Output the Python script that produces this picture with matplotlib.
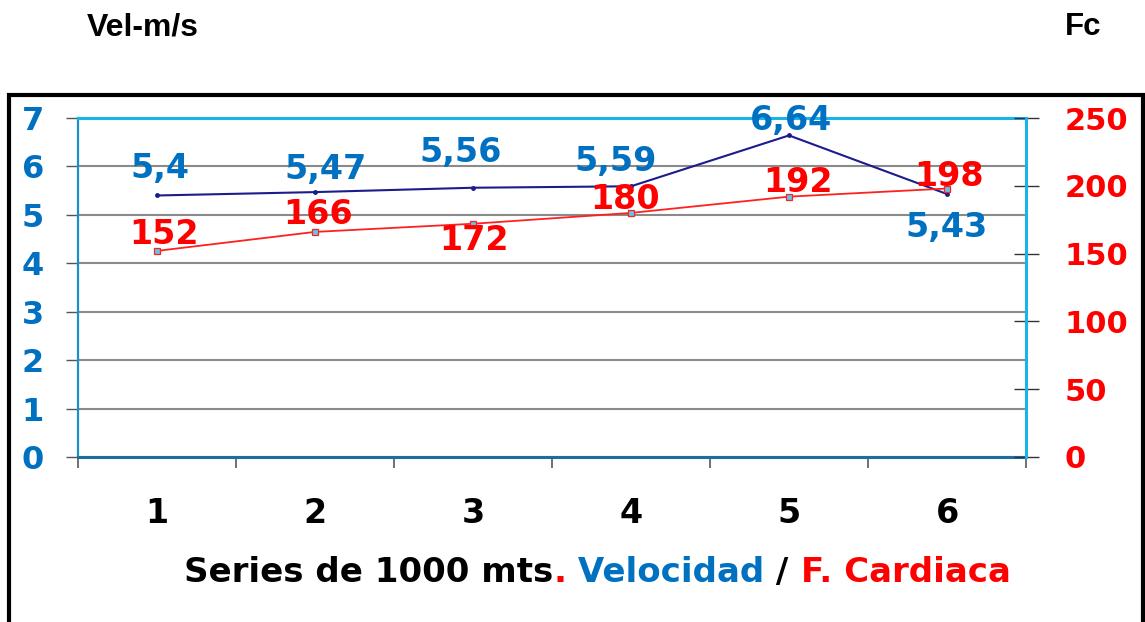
import matplotlib.pyplot as plt
from matplotlib.patches import Rectangle

series = [1, 2, 3, 4, 5, 6]
velocidad = [5.4, 5.47, 5.56, 5.59, 6.64, 5.43]
frec_cardiaca = [152, 166, 172, 180, 192, 198]
vel_labels = ["5,4", "5,47", "5,56", "5,59", "6,64", "5,43"]
fc_labels = ["152", "166", "172", "180", "192", "198"]
vel_ticks = [0, 1, 2, 3, 4, 5, 6, 7]
fc_ticks = [0, 50, 100, 150, 200, 250]

# label offsets in pixels (dx, dy of baseline)
vel_off = [(3, 17), (11, 13), (-12, 26), (-15, 15), (2, 5), (0, -43)]
fc_off = [(7, 7), (3, 8), (1, -26), (-6, 4), (9, 5), (2, 3)]

BLUE = "#0070c0"
RED = "#ff0000"
NUM = "DejaVu Sans"

fig = plt.figure(figsize=(11.45, 6.22), dpi=100)
ax = fig.add_axes([78/1145, 1-457/622, (1026-78)/1145, (457-118)/622])
ax2 = ax.twinx()

ax.plot(series, velocidad, color="#1c1c8c", lw=1.5, marker="o", ms=2.5, zorder=3)
ax2.plot(series, frec_cardiaca, color="#ff2020", lw=1.3, marker="s", ms=4,
         mfc="#5fc8e8", mec="#ff2020", mew=0.9, zorder=3)

ax.set_xlim(0.5, 6.5)
ax.set_ylim(0, 7)
ax2.set_ylim(0, 250)

for x, y, t, (dx, dy) in zip(series, velocidad, vel_labels, vel_off):
    ax.annotate(t, (x, y), xytext=(dx, dy), textcoords="offset pixels",
                ha="center", va="baseline", color=BLUE, fontsize=24,
                fontweight="bold", family=NUM)
for x, y, t, (dx, dy) in zip(series, frec_cardiaca, fc_labels, fc_off):
    ax2.annotate(t, (x, y), xytext=(dx, dy), textcoords="offset pixels",
                 ha="center", va="baseline", color=RED, fontsize=24,
                 fontweight="bold", family=NUM)

# grid
ax.set_yticks(vel_ticks)
ax.yaxis.grid(True, color="#8a8a8a", lw=1.5)
ax.set_axisbelow(True)

# left axis
ax.tick_params(axis="y", direction="out", length=8.6, width=1, color="#555555",
               pad=16, labelsize=23, labelcolor=BLUE)
for lb in ax.get_yticklabels():
    lb.set_fontweight("bold")
    lb.set_family(NUM)

# x axis
ax.set_xticks(series)
ax.set_xticks([0.5, 1.5, 2.5, 3.5, 4.5, 5.5, 6.5], minor=True)
ax.tick_params(axis="x", which="major", length=0, pad=29, labelsize=24)
ax.tick_params(axis="x", which="minor", direction="out", length=8, width=1.3,
               color="#666666")
for lb in ax.get_xticklabels():
    lb.set_fontweight("bold")
    lb.set_family(NUM)

# right axis
ax2.set_yticks(fc_ticks)
ax2.tick_params(axis="y", direction="inout", length=18, width=1, color="#333333",
                pad=19, labelsize=22, labelcolor=RED)
for lb in ax2.get_yticklabels():
    lb.set_fontweight("bold")
    lb.set_family(NUM)

# spines
for s in ax2.spines.values():
    s.set_visible(False)
ax2.spines["right"].set_visible(True)
ax2.spines["right"].set_color("#1ab2ea")
ax2.spines["right"].set_linewidth(2.2)
ax.spines["right"].set_visible(False)
ax.spines["top"].set_color("#1ab2ea")
ax.spines["top"].set_linewidth(2.2)
ax.spines["left"].set_color("#1a8fc8")
ax.spines["left"].set_linewidth(1.6)
ax.spines["bottom"].set_color("#1a6fa0")
ax.spines["bottom"].set_linewidth(2.2)

# axis titles
fig.text(87/1145, 1-35/622, "Vel-m/s", fontsize=23, fontweight="bold",
         family="Liberation Sans", va="baseline")
fig.text(1065/1145, 1-35/622, "Fc", fontsize=22.5, fontweight="bold",
         family="Liberation Sans", va="baseline")

# multi-colour x label
parts = [("Series de 1000 mts", "black"), (".", RED), (" Velocidad", BLUE),
         (" / ", "black"), ("F. Cardiaca", RED)]
base_y = 1-582/622
texts = []
for txt, col in parts:
    texts.append(fig.text(184/1145, base_y, txt, color=col, fontsize=24.5,
                          fontweight="bold", family=NUM, va="baseline", ha="left"))
fig.canvas.draw()
r = fig.canvas.get_renderer()
x0 = texts[0].get_window_extent(r).x1
for t in texts[1:]:
    t.set_position((x0/fig.bbox.width, base_y))
    x0 = t.get_window_extent(r).x1

# black frame
fig.add_artist(Rectangle((9/1145, -0.1), (1143-9)/1145, (622-95)/622 + 0.1,
                         transform=fig.transFigure, fill=False, ec="black",
                         lw=3, clip_on=False))

fig.savefig("out.png", dpi=100)
